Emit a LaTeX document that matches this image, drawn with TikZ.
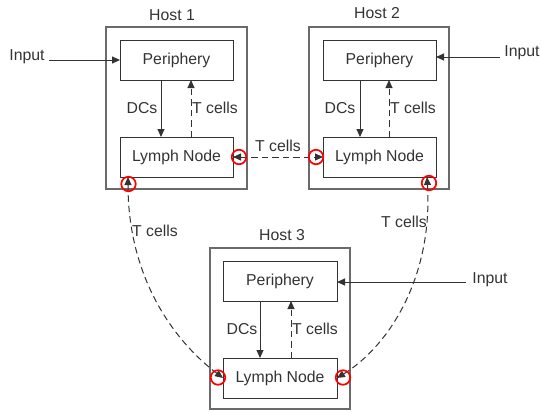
\documentclass[tikz,border=0pt]{standalone}
\usepackage{fontspec}
\setmainfont{Liberation Sans}
\usetikzlibrary{arrows.meta,positioning,calc}

\definecolor{inkgray}{HTML}{333333}
\definecolor{boxgray}{HTML}{6A6A6A}

\tikzset{
  every node/.style={font=\fontsize{15.8bp}{18bp}\selectfont, text=inkgray},
  host/.style={draw=boxgray, line width=1.4bp, minimum width=141bp, minimum height=162bp, inner sep=0pt, outer sep=0pt},
  organ/.style={draw=inkgray, line width=1bp, minimum width=113bp, minimum height=40bp, inner sep=0pt, outer sep=0pt},
  flow/.style={draw=inkgray, line width=1bp, -{Triangle[length=8bp,width=7bp]}},
  tflow/.style={flow, dash pattern=on 6.5bp off 4bp},
  tlink/.style={draw=inkgray, line width=1bp, dash pattern=on 6.5bp off 4bp,
    {Triangle[length=8bp,width=7bp]}-{Triangle[length=8bp,width=7bp]}},
  ring/.style={circle, draw=red, line width=1.7bp, minimum size=14.5bp, inner sep=0pt},
  lbl/.style={inner sep=1bp}
}

\begin{document}
\begin{tikzpicture}[x=1bp,y=-1bp]
\useasboundingbox (0,0) rectangle (541,411);

% host frames
\node[host] (h1) at (176.5,108) {};
\node[host, minimum width=140bp] (h2) at (379,108) {};
\node[host, minimum width=140bp, minimum height=161bp] (h3) at (280,328.5) {};

\node (h1t) at (172,15) {Host 1};
\node (h2t) at (377,13) {Host 2};
\node (h3t) at (282,235) {Host 3};

% organs
\node[organ] (p1) at (176.5,60) {Periphery};
\node[organ] (l1) at (176.5,157) {Lymph Node};
\node[organ] (p2) at (379.5,60) {Periphery};
\node[organ] (l2) at (379.5,157) {Lymph Node};
\node[organ, minimum width=114bp] (p3) at (280,281) {Periphery};
\node[organ, minimum width=114bp] (l3) at (280,378) {Lymph Node};

% traffic inside each host
\draw[flow]  ([xshift=-15.5bp]p1.south) -- ([xshift=-15.5bp]l1.north);
\draw[tflow] ([xshift=14.5bp]l1.north) -- ([xshift=14.5bp]p1.south);
\node (d1) at (142,108) {DCs};
\node (t1) at (215,108) {T cells};

\draw[flow]  ([xshift=-19.5bp]p2.south) -- ([xshift=-19.5bp]l2.north);
\draw[tflow] ([xshift=9.5bp]l2.north) -- ([xshift=9.5bp]p2.south);
\node (d2) at (340,108) {DCs};
\node (t2) at (413,108) {T cells};

\draw[flow]  ([xshift=-20bp]p3.south) -- ([xshift=-20bp]l3.north);
\draw[tflow] ([xshift=11bp]l3.north) -- ([xshift=11bp]p3.south);
\node (d3) at (242,329) {DCs};
\node (t3) at (315,329) {T cells};

% external inputs
\node (in1) at (27,57) {Input};
\coordinate (in1s) at (49,60);
\draw[flow] (in1s) -- (p1.west);

\node (in2) at (522,53) {Input};
\coordinate (in2s) at (500,57);
\draw[flow] (in2s) -- (in2s -| p2.east);

\node (in3) at (490,280) {Input};
\coordinate (in3s) at (466,282);
\draw[flow] (in3s) -- (in3s -| p3.east);

% T cell exchange between hosts
\draw[tlink] (l1.east) -- (l2.west);
\node (t12) at (278,146) {T cells};

\draw[tlink] ([xshift=8bp]l1.south west) .. controls +(0,100) and +(-50,-38) .. (l3.west);
\node (t13) at (155,231) {T cells};

\draw[tlink] ([xshift=-9bp]l2.south east) .. controls +(6,100) and +(52,-32) .. (l3.east);
\node (t23) at (404,222) {T cells};

% highlighted arrow heads
\node[ring] (r1) at (239,157) {};
\node[ring] (r2) at (316,157) {};
\node[ring] (r3) at (128.5,184) {};
\node[ring] (r4) at (429,183) {};
\node[ring] (r5) at (218,377.5) {};
\node[ring] (r6) at (343,377.5) {};
\end{tikzpicture}
\end{document}
